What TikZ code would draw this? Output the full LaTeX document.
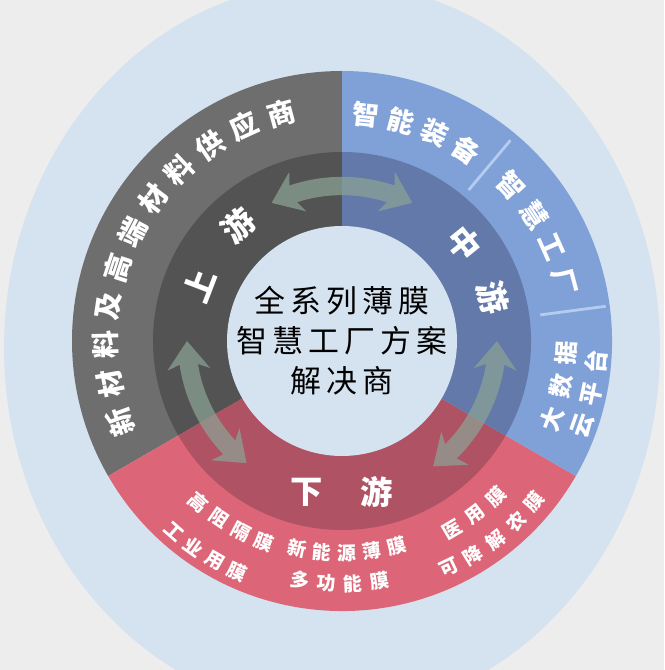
\documentclass[tikz,border=0pt]{standalone}
\usepackage{fontspec}
\newfontfamily\cjk{Noto Sans CJK SC}
\usetikzlibrary{arrows.meta,bending}

\definecolor{bggrey}{HTML}{EDEDED}
\definecolor{paleblue}{HTML}{D5E3F1}
\definecolor{greyout}{HTML}{6E6E6E}
\definecolor{greyin}{HTML}{535353}
\definecolor{blueout}{HTML}{80A0D8}
\definecolor{bluein}{HTML}{6279A9}
\definecolor{redout}{HTML}{DC6677}
\definecolor{redin}{HTML}{AE5264}
\definecolor{flowgreen}{HTML}{8CA596}
\definecolor{sepblue}{HTML}{B4CCEE}

\tikzset{
  lbl/.style={text=white, inner sep=0pt},
  stage/.style={font=\cjk\bfseries\fontsize{23}{23}\selectfont},
  supplier/.style={font=\cjk\bfseries\fontsize{20}{20}\selectfont},
  equip/.style={font=\cjk\bfseries\fontsize{19}{19}\selectfont},
  cloud/.style={font=\cjk\bfseries\fontsize{17}{17}\selectfont},
  film/.style={font=\cjk\bfseries\fontsize{13.5}{13.5}\selectfont},
  flow/.style={draw=flowgreen, line width=13pt,
    >={Stealth[length=20pt,width=30pt,inset=6pt]}, <->},
  sep/.style={draw=sepblue, line width=2pt}
}

% one character per node along an arc:
% style, name, radius, first angle, step, turn of the glyphs, characters
\newcommand{\arcword}[7]{%
  \foreach \ch [count=\k from 0] in {#7}
    \node[lbl,#1,rotate={#4+\k*(#5)+(#6)}] (#2\k) at ({#4+\k*(#5)}:#3) {\ch};}

\begin{document}
\begin{tikzpicture}[x=0.025cm,y=0.025cm]
\useasboundingbox (-342,-329) rectangle (322,341);
\fill[bggrey] (-342,-329) rectangle (322,341);
\fill[paleblue] (-10,-7) ellipse (328 and 366);

% the three segments, outer and inner band
\foreach \a/\co/\ci [evaluate=\a as \b using \a+120] in
    {90/greyout/greyin, 210/redout/redin, 330/blueout/bluein}{
  \fill[\co] (0,0) -- (\a:270) arc (\a:\b:270) -- cycle;
  \fill[\ci] (0,0) -- (\a:189) arc (\a:\b:189) -- cycle;}
\fill[paleblue] (0,0) circle (115);

% curved two-way arrows across the borders
\begin{scope}[transparency group, opacity=.7]
\foreach \s/\e in {117/63, 180/232, 306/360}{
  \draw[flow] (\s:155) arc (\s:\e:155);}
\end{scope}

% separators in the blue band
\draw[sep] (50:197) -- (50:262);
\draw[sep] (7.5:200) -- (7.5:266);

% stage names
\node[lbl,stage,rotate=69] (up1) at (159:153) {上};
\node[lbl,stage,rotate=42] (up2) at (132:155) {游};
\node[lbl,stage,rotate=-51] (mid1) at (38.6:157) {中};
\node[lbl,stage,rotate=-74] (mid2) at (16:157) {游};
\node[lbl,stage] (down1) at (-35,-151) {下};
\node[lbl,stage] (down2) at (35,-151) {游};

% outer band texts
\arcword{supplier}{sup}{236}{200}{-9.5}{-90}{新,材,料,及,高,端,材,料,供,应,商}
\arcword{equip}{eqa}{228}{84}{-9}{-90}{智,能,装,备}
\arcword{equip}{eqb}{230}{42.5}{-9.2}{-90}{智,慧,工,厂}
\arcword{cloud}{bda}{224}{-20.3}{8.6}{90}{大,数,据}
\arcword{cloud}{bdb}{255}{-19.3}{7.3}{90}{云,平,台}
\arcword{film}{fa}{216}{228.5}{6.8}{90}{高,阻,隔,膜}
\arcword{film}{fb}{254}{228.5}{5.7}{90}{工,业,用,膜}
\arcword{film}{fc}{212}{257.8}{6.8}{90}{新,能,源,薄,膜}
\arcword{film}{fd}{243}{260}{6.3}{90}{多,功,能,膜}
\arcword{film}{fe}{219}{300.3}{7.2}{90}{医,用,膜}
\arcword{film}{ff}{251}{295.3}{6.2}{90}{可,降,解,农,膜}

% centre
\node[align=center, inner sep=0pt,
  font=\cjk\fontsize{22}{28.5}\selectfont\addfontfeatures{LetterSpace=16}]
  (title) at (0,0) {全系列薄膜\\智慧工厂方案\\解决商};
\end{tikzpicture}
\end{document}
